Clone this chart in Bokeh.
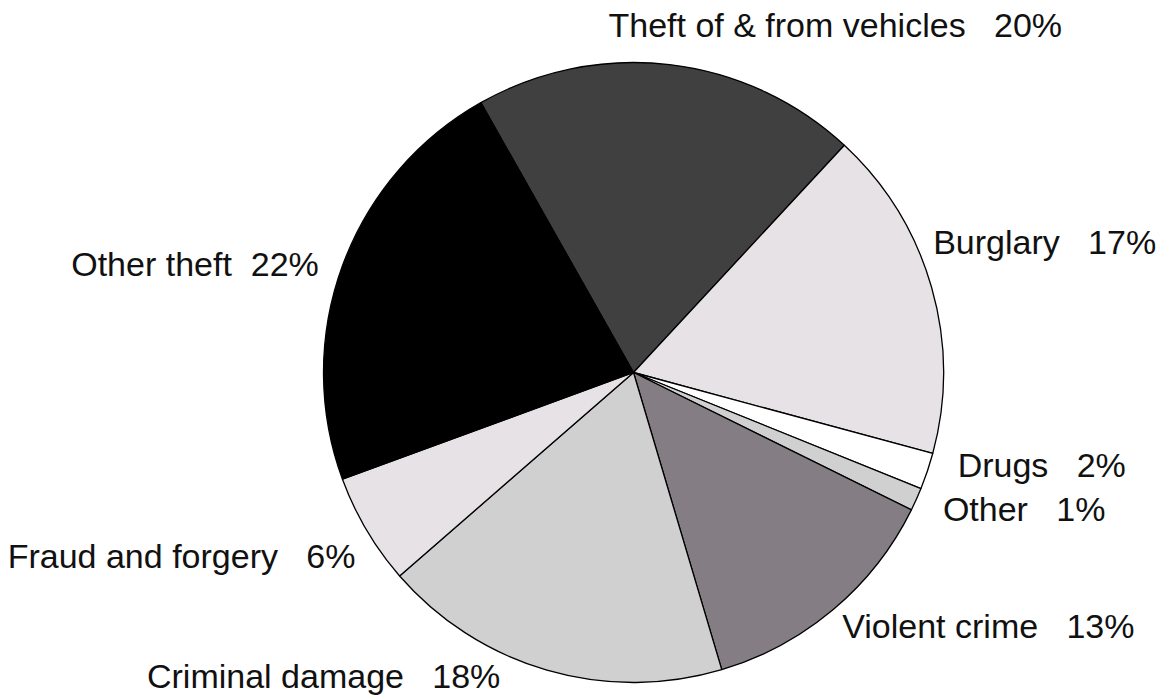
import math
from bokeh.plotting import figure
from bokeh.models import Range1d, ColumnDataSource
from bokeh.core.properties import value
from bokeh.embed import file_html
from bokeh.resources import INLINE

# ---- data ----
categories = ["Theft of & from vehicles", "Burglary", "Drugs", "Other",
              "Violent crime", "Criminal damage", "Fraud and forgery", "Other theft"]
shares = [20.1, 17.3, 1.9, 1.2, 13.1, 18.2, 5.8, 22.4]
gap_counts = [3, 3, 3, 3, 3, 3, 3, 2]

# ---- styling / layout ----
colors = ["#404040", "#e6e2e6", "#ffffff", "#d0d0d0",
          "#847e84", "#d0d0d0", "#e6e2e6", "#000000"]
label_nudge_deg = [10.8, 7.6, 2.7, 0.4, -0.6, -7.5, 2.8, 1.1]
label_radius = [348, 327, 337, 338, 328, 331, 333, 333]
START_DEG = 119.5
R = 310

W, H = 1160, 696
CX, CY = 633, 372  # pie centre in figure pixels (from left / top)

total = sum(shares)
starts, ends, mids = [], [], []
a = START_DEG
for s in shares:
    span = s / total * 360.0
    starts.append(math.radians(a))
    ends.append(math.radians(a - span))
    mids.append(a - span / 2)
    a -= span

lx, ly, texts, aligns = [], [], [], []
for i, name in enumerate(categories):
    ang = math.radians(mids[i] + label_nudge_deg[i])
    x = label_radius[i] * math.cos(ang)
    y = label_radius[i] * math.sin(ang)
    lx.append(x)
    ly.append(y)
    gap = "\u00a0" * gap_counts[i]
    texts.append(f"{name}{gap}{round(shares[i] / total * 100)}%")
    aligns.append("left" if x > -40 else "right")

p = figure(width=W, height=H, output_backend="svg", toolbar_location=None,
           x_range=Range1d(-CX, W - CX), y_range=Range1d(-(H - CY), CY),
           min_border=0, outline_line_color=None)
p.axis.visible = False
p.grid.visible = False
p.background_fill_color = "white"
p.border_fill_color = "white"

src = ColumnDataSource(dict(start=starts, end=ends, color=colors))
p.wedge(x=0, y=0, radius=R, start_angle="start", end_angle="end",
        direction="clock", fill_color="color", line_color="black",
        line_width=1.3, source=src)

lsrc = ColumnDataSource(dict(x=lx, y=ly, text=texts, align=aligns))
p.text(x="x", y="y", text="text", text_align="align", text_baseline="middle",
       text_font=value("Liberation Sans"), text_font_size="34px",
       text_color="#111111", source=lsrc)

open("out.html", "w").write(file_html(p, INLINE))
